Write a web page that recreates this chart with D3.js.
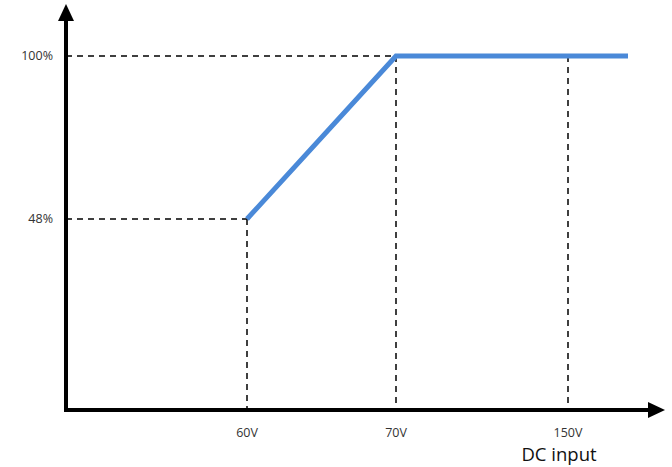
<!DOCTYPE html>
<html>
<head>
<meta charset="utf-8">
<script src="https://cdn.jsdelivr.net/npm/d3@7"></script>
<style>
  body { margin: 0; background: #fff; }
  text { font-family: "Open Sans", "Noto Sans", sans-serif; fill: #333; }
</style>
</head>
<body>
<svg width="672" height="467"></svg>
<script>
// values
const voltages = [60, 70, 150, 160]      // 160 = where the line stops
const power = [48, 100, 100, 100]
const xTicks = [60, 70, 150]
const xTickLabels = ['60V', '70V', '150V']
const yTicks = [48, 100]
const yTickLabels = ['48%', '100%']

const svg = d3.select('svg')

// x axis is not to scale in the drawing, so piecewise
const x = d3.scaleLinear()
  .domain([0, 60, 70, 150, 160])
  .range([66, 247, 396, 568, 628])
const y = d3.scaleLinear()
  .domain([48, 100])
  .range([219, 56])

const x0 = 66, y0 = 410

// guide lines
const guides = svg.append('g')
  .attr('stroke', '#000')
  .attr('stroke-width', 1.5)
  .attr('stroke-dasharray', '6,5')

yTicks.forEach((t, i) => {
  const xi = i == 0 ? 60 : 70
  guides.append('line')
    .attr('x1', x0).attr('x2', x(xi))
    .attr('y1', y(t)).attr('y2', y(t))
})
xTicks.forEach(t => {
  guides.append('line')
    .attr('x1', x(t)).attr('x2', x(t))
    .attr('y1', y(t == 60 ? 48 : 100)).attr('y2', y0)
})

// data line
const line = d3.line()
  .x((d, i) => x(voltages[i]))
  .y(d => y(d))
svg.append('path')
  .attr('d', line(power))
  .attr('fill', 'none')
  .attr('stroke', '#4a89d8')
  .attr('stroke-width', 5)

// axes with arrows
svg.append('line')
  .attr('x1', x0).attr('x2', x0)
  .attr('y1', y0 + 2).attr('y2', 18)
  .attr('stroke', '#000').attr('stroke-width', 4)
svg.append('line')
  .attr('x1', x0 - 2).attr('x2', 652)
  .attr('y1', y0).attr('y2', y0)
  .attr('stroke', '#000').attr('stroke-width', 4)
svg.append('path')
  .attr('d', `M${x0},4 L${x0 - 8},21 L${x0 + 8},21 Z`)
  .attr('fill', '#000')
svg.append('path')
  .attr('d', `M665,${y0} L648,${y0 - 8} L648,${y0 + 8} Z`)
  .attr('fill', '#000')

// tick labels
svg.selectAll('.xlab').data(xTicks).enter().append('text')
  .attr('class', 'xlab')
  .attr('x', d => x(d))
  .attr('y', 437)
  .attr('text-anchor', 'middle')
  .attr('font-size', 12.5)
  .text((d, i) => xTickLabels[i])

svg.selectAll('.ylab').data(yTicks).enter().append('text')
  .attr('class', 'ylab')
  .attr('x', 53)
  .attr('y', d => y(d))
  .attr('dy', '0.35em')
  .attr('text-anchor', 'end')
  .attr('font-size', 12.5)
  .text((d, i) => yTickLabels[i])

svg.append('text')
  .attr('x', 559)
  .attr('y', 461)
  .attr('text-anchor', 'middle')
  .attr('font-size', 18.5)
  .style('fill', '#111')
  .text('DC input')
</script>
</body>
</html>
